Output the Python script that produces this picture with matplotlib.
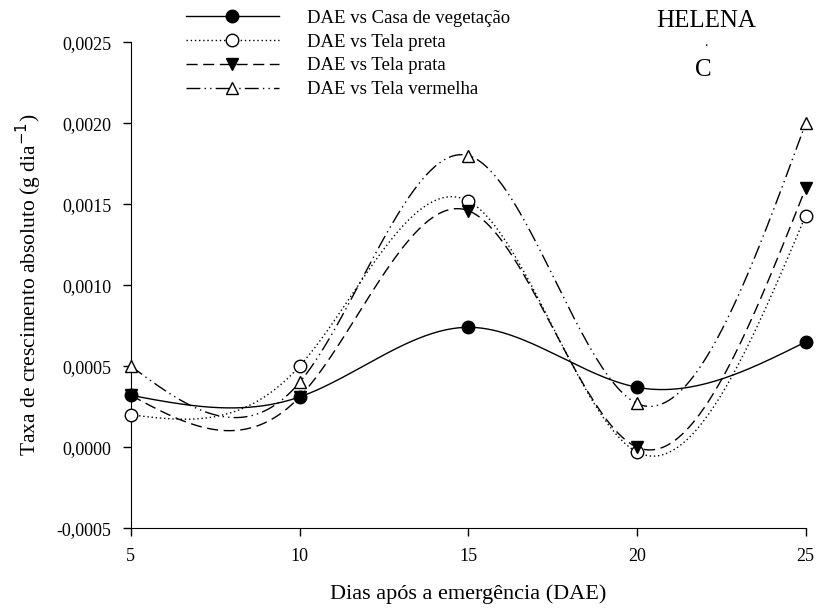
import numpy as np
import matplotlib
matplotlib.use("Agg")
import matplotlib.pyplot as plt
from matplotlib.ticker import FuncFormatter

plt.rcParams['font.family'] = ['Liberation Serif', 'DejaVu Serif']

dae = [5, 10, 15, 20, 25]
casa = [0.00032, 0.00031, 0.00074, 0.00037, 0.00065]
tela_preta = [0.00020, 0.00050, 0.00152, -0.00003, 0.00143]
tela_prata = [0.00032, 0.00031, 0.00146, 0.00000, 0.00160]
tela_vermelha = [0.00050, 0.00040, 0.00180, 0.00027, 0.00200]
labels = ["DAE vs Casa de vegetação", "DAE vs Tela preta",
          "DAE vs Tela prata", "DAE vs Tela vermelha"]
yticks = [-0.0005, 0.0, 0.0005, 0.0010, 0.0015, 0.0020, 0.0025]
xticks = [5, 10, 15, 20, 25]


def natural_spline(x, y, xs):
    x = np.asarray(x, float); y = np.asarray(y, float)
    n = len(x)
    h = np.diff(x)
    A = np.zeros((n, n)); b = np.zeros(n)
    A[0, 0] = 1; A[-1, -1] = 1
    for i in range(1, n - 1):
        A[i, i - 1] = h[i - 1]
        A[i, i] = 2 * (h[i - 1] + h[i])
        A[i, i + 1] = h[i]
        b[i] = 3 * ((y[i + 1] - y[i]) / h[i] - (y[i] - y[i - 1]) / h[i - 1])
    c = np.linalg.solve(A, b)
    bb = np.zeros(n - 1); d = np.zeros(n - 1)
    for i in range(n - 1):
        bb[i] = (y[i + 1] - y[i]) / h[i] - h[i] * (2 * c[i] + c[i + 1]) / 3
        d[i] = (c[i + 1] - c[i]) / (3 * h[i])
    idx = np.clip(np.searchsorted(x, xs) - 1, 0, n - 2)
    dx = xs - x[idx]
    return y[idx] + bb[idx] * dx + c[idx] * dx ** 2 + d[idx] * dx ** 3


fig = plt.figure(figsize=(8.23, 6.12), dpi=100)
ax = fig.add_axes([0.159, 0.137, 0.82, 0.794])

xs = np.linspace(5, 25, 400)
series = [casa, tela_preta, tela_prata, tela_vermelha]
styles = [
    dict(linestyle='-', marker='o', mfc='black', mec='black'),
    dict(linestyle=(0, (1, 2)), marker='o', mfc='white', mec='black'),
    dict(linestyle=(0, (8, 4)), marker='v', mfc='black', mec='black'),
    dict(linestyle=(0, (10, 3, 1, 3, 1, 3)), marker='^', mfc='white', mec='black'),
]
handles = []
for s, st, lab in zip(series, styles, labels):
    ax.plot(xs, natural_spline(dae, s, xs), color='black', lw=1.0,
            linestyle=st['linestyle'], clip_on=False, zorder=2)
    ax.plot(dae, s, linestyle='none', marker=st['marker'], ms=9,
            mfc=st['mfc'], mec=st['mec'], mew=1.0, clip_on=False, zorder=3)
    h, = ax.plot([], [], color='black', lw=1.0, linestyle=st['linestyle'],
                 marker=st['marker'], ms=9, mfc=st['mfc'], mec=st['mec'])
    handles.append(h)

ax.set_xlim(5, 25)
ax.set_ylim(-0.0005, 0.0025)
ax.set_xticks(xticks)
ax.set_yticks(yticks)
ax.yaxis.set_major_formatter(FuncFormatter(lambda v, p: f"{v:.4f}".replace('.', ',')))
ax.spines['top'].set_visible(False)
ax.spines['right'].set_visible(False)
ax.tick_params(direction='out', length=6, width=1, labelsize=13, pad=8)
ax.set_xlabel("Dias após a emergência (DAE)", fontsize=16, labelpad=14)
ax.set_ylabel("Taxa de crescimento absoluto (g dia$^{-1}$)", fontsize=15.5, labelpad=9)

fig.legend(handles, labels, loc='upper left', bbox_to_anchor=(0.205, 1.012),
           frameon=False, fontsize=13.5, handlelength=5.0, handletextpad=1.5,
           labelspacing=0.36)

fig.text(0.858, 0.965, "HELENA", fontsize=18, ha='center', va='center')
fig.text(0.858, 0.931, ".", fontsize=10, ha='center', va='center')
fig.text(0.855, 0.885, "C", fontsize=18, ha='center', va='center')

fig.savefig("out.png", dpi=100)
